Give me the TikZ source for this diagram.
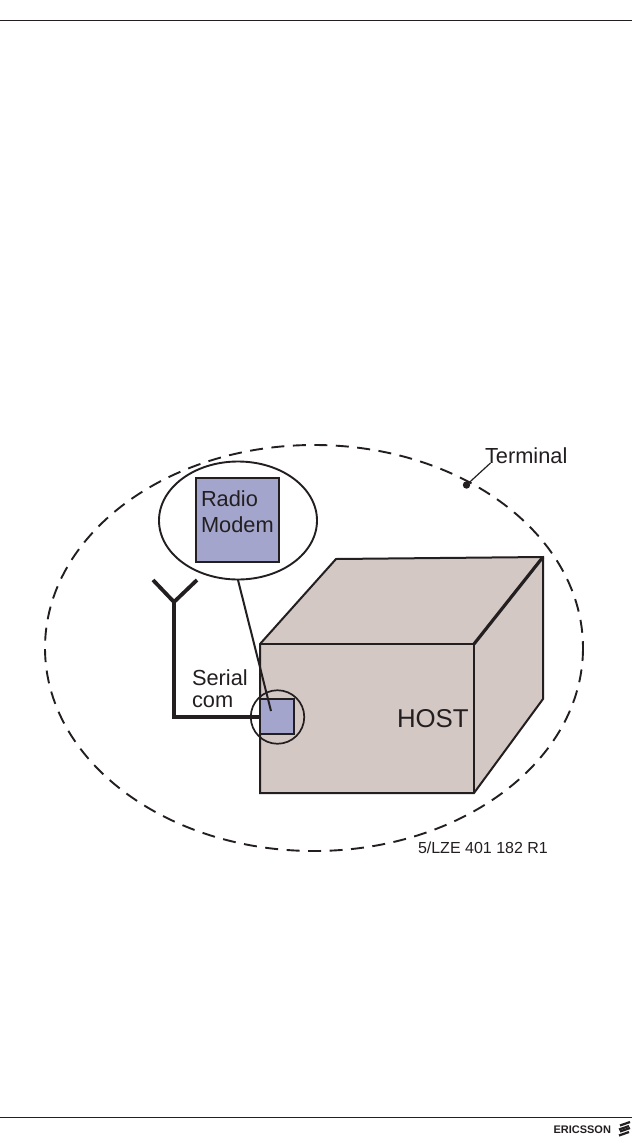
\documentclass[tikz,border=0pt]{standalone}
\usepackage{fontspec}
\usetikzlibrary{shapes.geometric}
\setmainfont{Liberation Sans}
\definecolor{ink}{HTML}{231F20}
\definecolor{hostfill}{HTML}{D3C8C4}
\definecolor{modemfill}{HTML}{A3A5CC}
\tikzset{
  lab/.style={inner sep=0pt,outer sep=0pt,text=ink,anchor=base west,align=left},
  thin line/.style={draw=ink,line width=2pt},
  heavy/.style={draw=ink,line width=4.2pt},
  big label/.style={font=\fontsize{21.8}{26}\selectfont},
}
\begin{document}
\begin{tikzpicture}[x=1pt,y=-1pt,line join=miter]
\useasboundingbox (0,0) rectangle (632,1137);
\fill[white] (0,0) rectangle (632,1137);
% page rules
\coordinate (rt1) at (0,21); \coordinate (rt2) at (632,21);
\coordinate (rb1) at (0,1117); \coordinate (rb2) at (632,1117);
\draw[ink,line width=1pt] (rt1) -- (rt2);
\draw[ink,line width=1pt] (rb1) -- (rb2);
% terminal outline
\draw[ink,line width=1.9pt,dash pattern=on 13pt off 8.5pt] (314,648) ellipse [x radius=269,y radius=203];
% host box
\coordinate (fa) at (260,644); \coordinate (fb) at (474,644);
\coordinate (fc) at (474,793); \coordinate (fd) at (260,793);
\coordinate (ta) at (336,559); \coordinate (tb) at (543,557);
\coordinate (sb) at (543,699);
\fill[hostfill] (fa) -- (ta) -- (tb) -- (sb) -- (fc) -- (fd) -- cycle;
\draw[thin line] (fa) -- (ta) -- (tb) -- (sb) -- (fc) -- (fd) -- cycle;
\draw[thin line] (fa) -- (fb) -- (fc);
\draw[draw=ink,line width=3.2pt] (fb) -- (tb);
% antenna and serial line
\coordinate (anL) at (153,580); \coordinate (anR) at (197,580);
\coordinate (anM) at (174,602); \coordinate (anB) at (174,717);
\draw[heavy,line width=3.8pt,line cap=butt] (anL) -- (anM) -- (anR);
\draw[heavy] (anM) -- (anB) -- (260,717);
% modem in host
\node[draw=ink,fill=modemfill,line width=2.2pt,minimum width=34pt,minimum height=34.5pt,inner sep=0pt] (modem) at (277,716.5) {};
\node[draw=ink,line width=1.7pt,circle,minimum size=53.5pt,inner sep=0pt] (zoomc) at (277.5,717) {};
% callout
\node[draw=ink,fill=white,line width=1.9pt,ellipse,minimum width=158pt,minimum height=118pt,inner sep=0pt] (callout) at (238,520.5) {};
\node[draw=ink,fill=modemfill,line width=1.9pt,minimum width=83pt,minimum height=84pt,inner sep=0pt] (bigmodem) at (237.5,520) {};
\coordinate (tip) at (271,711);
\draw[thin line] (238,580) -- (tip);
% labels
\node[lab,big label] (lradio) at (201,506) {Radio};
\node[lab,big label] (lmodem) at (201,532) {Modem};
\node[lab,big label] (lserial) at (192,685) {Serial};
\node[lab,big label] (lcom) at (192,707) {com};
\node[lab,font=\fontsize{25.8}{31}\selectfont] (lhost) at (397,727) {HOST};
\node[lab,big label] (lterm) at (485,463) {Terminal};
\node[lab,font=\fontsize{16}{19}\selectfont] (lref) at (418,853) {5/LZE 401 182 R1};
% terminal leader
\coordinate (dot) at (466.5,485);
\fill[ink] (dot) circle (3.7pt);
\draw[draw=ink,line width=1.2pt] (dot) -- (490.5,463);
% logo
\node[lab,font=\fontsize{11}{13}\bfseries\selectfont] (logo) at (553.5,1133.5) {ERICSSON};
\begin{scope}[draw=ink,line width=2.2pt]
\draw (620,1125.5) -- (630,1122);
\draw (619,1129.5) -- (629,1126);
\draw (620,1131.5) -- (630,1128);
\draw (619,1135.5) -- (629,1132);
\end{scope}
\end{tikzpicture}
\end{document}
